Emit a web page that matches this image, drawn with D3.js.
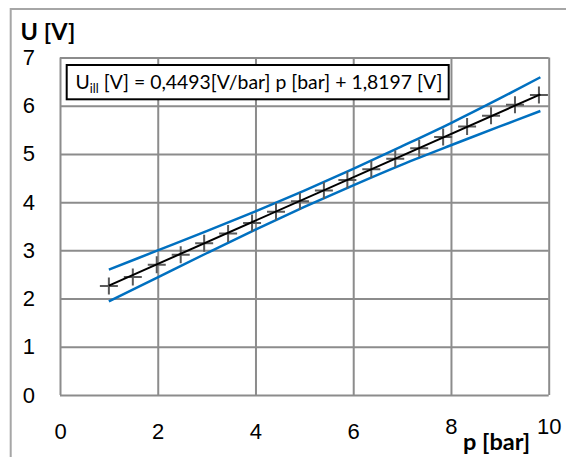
<!DOCTYPE html>
<html>
<head>
<meta charset="utf-8">
<script src="https://cdn.jsdelivr.net/npm/d3@7"></script>
<style>
	body { margin: 0; background: #fff; }
	svg { display: block; font-family: Lato, "Open Sans", sans-serif; }
	.grid line { stroke: #8c8c8c; stroke-width: 2; }
	.grid text { fill: #000; font-size: 22px; }
</style>
</head>
<body>
<div id="chart"></div>
<script>
// measured points
var pValues = [1.0, 1.49, 1.98, 2.47, 2.95, 3.44, 3.93, 4.42, 4.91, 5.40, 5.88, 6.37, 6.86, 7.35, 7.84, 8.33, 8.82, 9.31, 9.80];
var uValues = [2.26, 2.45, 2.70, 2.91, 3.15, 3.35, 3.57, 3.80, 4.02, 4.24, 4.46, 4.68, 4.90, 5.12, 5.35, 5.57, 5.79, 6.02, 6.22];

// regression line
var fitSlope = 0.4493;
var fitIntercept = 1.8197;
var fitRange = [1.0, 9.83];

// blue band
var bandP     = [1.0,  2.0,  3.0,  4.0,  5.0,  6.0,  7.0,  8.0,  9.0,  9.83];
var bandUpper = [2.60, 3.00, 3.40, 3.81, 4.24, 4.69, 5.16, 5.64, 6.15, 6.59];
var bandLower = [1.94, 2.44, 2.94, 3.43, 3.90, 4.35, 4.78, 5.18, 5.57, 5.89];

var xTicks = [0, 2, 4, 6, 8, 10];
var yTicks = [0, 1, 2, 3, 4, 5, 6, 7];

var width = 566, height = 457;
var plotLeft = 60, plotRight = 548.7, plotTop = 57.5, plotBottom = 395;

var svg = d3.select('#chart').append('svg')
	.attr('width', width)
	.attr('height', height);

// outer frame (runs off the right and bottom edge)
svg.append('rect')
	.attr('x', 10.7)
	.attr('y', 9)
	.attr('width', 700)
	.attr('height', 600)
	.attr('fill', 'none')
	.attr('stroke', '#a6a6a6')
	.attr('stroke-width', 2);

var xScale = d3.scaleLinear().domain([0, 10]).range([plotLeft, plotRight]);
var yScale = d3.scaleLinear().domain([0, 7]).range([plotBottom, plotTop]);

var xAxisG = svg.append('g')
	.attr('class', 'grid')
	.attr('transform', 'translate(0,' + plotBottom + ')')
	.call(d3.axisBottom(xScale).tickValues(xTicks).tickSize(-(plotBottom - plotTop)).tickPadding(28).tickFormat(d3.format('d')));
xAxisG.select('.domain').remove();
xAxisG.selectAll('text').attr('dy', function(d) { return d >= 8 ? '0.5em' : '0.71em'; });

var yAxisG = svg.append('g')
	.attr('class', 'grid')
	.attr('transform', 'translate(' + plotLeft + ',0)')
	.call(d3.axisLeft(yScale).tickValues(yTicks).tickSize(-(plotRight - plotLeft)).tickPadding(25).tickFormat(d3.format('d')));
yAxisG.select('.domain').remove();

var line = d3.line()
	.x(function(d) { return xScale(d[0]); })
	.y(function(d) { return yScale(d[1]); });

var bandLine = d3.line()
	.x(function(d) { return xScale(d[0]); })
	.y(function(d) { return yScale(d[1]); })
	.curve(d3.curveCatmullRom.alpha(0.5));

[bandUpper, bandLower].forEach(function(values) {
	var pts = bandP.map(function(p, i) { return [p, values[i]]; });
	svg.append('path')
		.attr('d', bandLine(pts))
		.attr('fill', 'none')
		.attr('stroke', '#0070c0')
		.attr('stroke-width', 2.5);
});

var points = pValues.map(function(p, i) { return [p, uValues[i]]; });

svg.append('g').selectAll('path')
	.data(points)
	.enter().append('path')
	.attr('transform', function(d) { return 'translate(' + xScale(d[0]) + ',' + yScale(d[1]) + ')'; })
	.attr('d', 'M-9,0H9M0,-8.5V8.5')
	.attr('stroke', '#595959')
	.attr('stroke-width', 2)
	.attr('fill', 'none');

var fitData = fitRange.map(function(p) { return [p, fitSlope * p + fitIntercept]; });

svg.append('path')
	.attr('d', line(fitData))
	.attr('fill', 'none')
	.attr('stroke', '#000')
	.attr('stroke-width', 2);

// equation label
svg.append('rect')
	.attr('x', 66.7)
	.attr('y', 65)
	.attr('width', 382)
	.attr('height', 34.3)
	.attr('fill', '#fff')
	.attr('stroke', '#000')
	.attr('stroke-width', 2);

var eq = svg.append('text')
	.attr('x', 75.5)
	.attr('y', 89)
	.attr('font-size', 19.4)
	.attr('fill', '#000');
eq.append('tspan').text('U');
eq.append('tspan').attr('font-size', 12.5).attr('dy', 4).text('ill');
eq.append('tspan').attr('dy', -4).text(' [V] = ' + d3.format('.4f')(fitSlope).replace('.', ',') + '[V/bar] p [bar] + ' + d3.format('.4f')(fitIntercept).replace('.', ',') + ' [V]');

svg.append('text')
	.attr('x', 20.5)
	.attr('y', 39.5)
	.attr('font-size', 23.5)
	.attr('font-weight', 'bold')
	.text('U [V]');

svg.append('text')
	.attr('x', 463)
	.attr('y', 450)
	.attr('font-size', 23.5)
	.attr('font-weight', 'bold')
	.text('p [bar]');
</script>
</body>
</html>
